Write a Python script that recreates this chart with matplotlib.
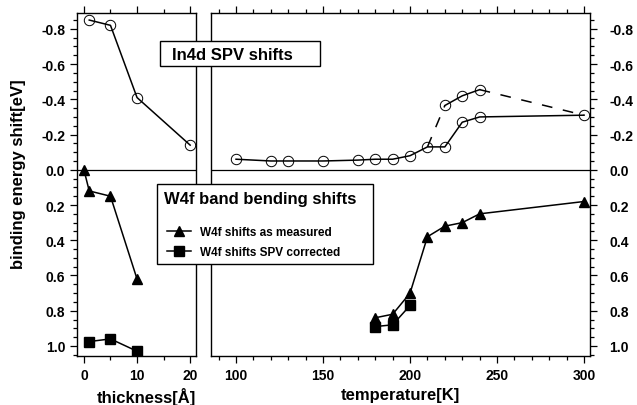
import numpy as np
import matplotlib
matplotlib.use("Agg")
import matplotlib.pyplot as plt
from matplotlib.patches import Rectangle
from matplotlib.lines import Line2D
from matplotlib.ticker import MultipleLocator

plt.rcParams['font.family'] = ['Liberation Sans', 'DejaVu Sans']
plt.rcParams['font.weight'] = 'bold'

## thickness series (left panel)
thick_in = [1, 5, 10, 20]
in_thick = [-0.85, -0.82, -0.41, -0.14]
thick_w = [0, 1, 5, 10]
w_thick = [0.0, 0.12, 0.15, 0.62]
thick_wc = [1, 5, 10]
wc_thick = [0.975, 0.96, 1.03]

## temperature series (right panel)
temp_in = [100, 120, 130, 150, 170, 180, 190, 200, 210, 220, 230, 240, 300]
in_temp = [-0.06, -0.05, -0.05, -0.05, -0.055, -0.06, -0.06, -0.08, -0.13, -0.13, -0.27, -0.30, -0.31]
temp_in_hi = [220, 230, 240]
in_temp_hi = [-0.365, -0.42, -0.455]
temp_dash = [210, 220, 240, 300]
in_dash = [-0.13, -0.365, -0.455, -0.31]
temp_w = [180, 190, 200, 210, 220, 230, 240, 300]
w_temp = [0.84, 0.82, 0.70, 0.38, 0.32, 0.30, 0.25, 0.18]
temp_wc = [180, 190, 200]
wc_temp = [0.89, 0.88, 0.77]

yticks = [-0.8, -0.6, -0.4, -0.2, 0.0, 0.2, 0.4, 0.6, 0.8, 1.0]

fig = plt.figure(figsize=(6.37, 4.06), dpi=100)
ax1 = fig.add_axes([0.1209, 0.1207, 0.1868, 0.8448])
ax2 = fig.add_axes([0.3312, 0.1207, 0.5950, 0.8448])

circ = dict(marker='o', mfc='none', mec='black', ms=7.5, mew=0.7, color='black', lw=1.1)
tri = dict(marker='^', color='black', ms=6.5, lw=1.1)
sq = dict(marker='s', color='black', ms=7, lw=1.1)

ax1.plot(thick_in, in_thick, **circ)
ax1.plot(thick_w, w_thick, **tri)
ax1.plot(thick_wc, wc_thick, **sq)

ax2.plot(temp_dash[:2], in_dash[:2], color='black', lw=1.1, dashes=(7, 7))
ax2.plot(temp_dash[2:], in_dash[2:], color='black', lw=1.1, dashes=(7, 7))
ax2.plot(temp_in, in_temp, **circ)
ax2.plot(temp_in_hi, in_temp_hi, **circ)
ax2.plot(temp_w, w_temp, **tri)
ax2.plot(temp_wc, wc_temp, **sq)

for ax in (ax1, ax2):
    ax.axhline(0, color='black', lw=0.9, zorder=0)
    ax.set_ylim(1.057, -0.89)
    ax.set_yticks(yticks)
    ax.yaxis.set_minor_locator(MultipleLocator(0.05))
    ax.tick_params(which='both', direction='out', labelsize=10, width=0.9)
    ax.tick_params(which='major', length=5)
    ax.tick_params(which='minor', length=3)
    for s in ax.spines.values():
        s.set_linewidth(1.0)

ax1.set_xlim(-1.3, 21.1)
ax1.set_xticks([0, 10, 20])
ax1.xaxis.set_minor_locator(MultipleLocator(5))
ax1.tick_params(which='both', top=True, bottom=True, left=True, right=False,
                labelleft=True, labelright=False)
ax1.set_yticklabels(['%.1f' % v for v in yticks], fontweight='bold')
ax1.set_xticklabels(['0', '10', '20'], fontweight='bold')

ax2.set_xlim(85.6, 303.4)
ax2.set_xticks([100, 150, 200, 250, 300])
ax2.xaxis.set_minor_locator(MultipleLocator(10))
ax2.tick_params(which='both', top=True, bottom=True, left=False, right=True,
                labelleft=False, labelright=True)
ax2.set_yticklabels(['%.1f' % v for v in yticks], fontweight='bold')
ax2.set_xticklabels(['100', '150', '200', '250', '300'], fontweight='bold')
ax2.yaxis.set_tick_params(pad=9)

ax1.set_ylabel('binding energy shift[eV]', fontsize=12, fontweight='bold')
ax1.yaxis.set_label_coords(-0.43, 0.534)
ax1.set_xlabel('thickness[Å]', fontsize=12, fontweight='bold')
ax1.xaxis.set_label_coords(0.58, -0.09)
ax2.set_xlabel('temperature[K]', fontsize=12, fontweight='bold')
ax2.xaxis.set_label_coords(0.5, -0.09)

## In4d box
fig.patches.append(Rectangle((0.2512, 0.835), 0.2512, 0.0616, transform=fig.transFigure,
                             facecolor='white', edgecolor='black', lw=1.0, zorder=5))
fig.text(0.365, 0.8645, 'In4d SPV shifts', ha='center', va='center', fontsize=12,
         fontweight='bold', zorder=6)

## W4f box with legend
fig.patches.append(Rectangle((0.2465, 0.3473), 0.339, 0.197, transform=fig.transFigure,
                             facecolor='white', edgecolor='black', lw=1.0, zorder=5))
fig.text(0.408, 0.508, 'W4f band bending shifts', ha='center', va='center', fontsize=12,
         fontweight='bold', zorder=6)
handles = [Line2D([], [], **tri), Line2D([], [], **sq)]
leg = fig.legend(handles, ['W4f shifts as measured', 'W4f shifts SPV corrected'],
                 loc='upper left', bbox_to_anchor=(0.262, 0.441), frameon=False,
                 prop={'size': 8.5, 'weight': 'bold'}, handlelength=2.0,
                 handletextpad=0.8, labelspacing=0.7, borderaxespad=0,
                 borderpad=0)
leg.set_zorder(7)

fig.savefig('out.png', dpi=100)
